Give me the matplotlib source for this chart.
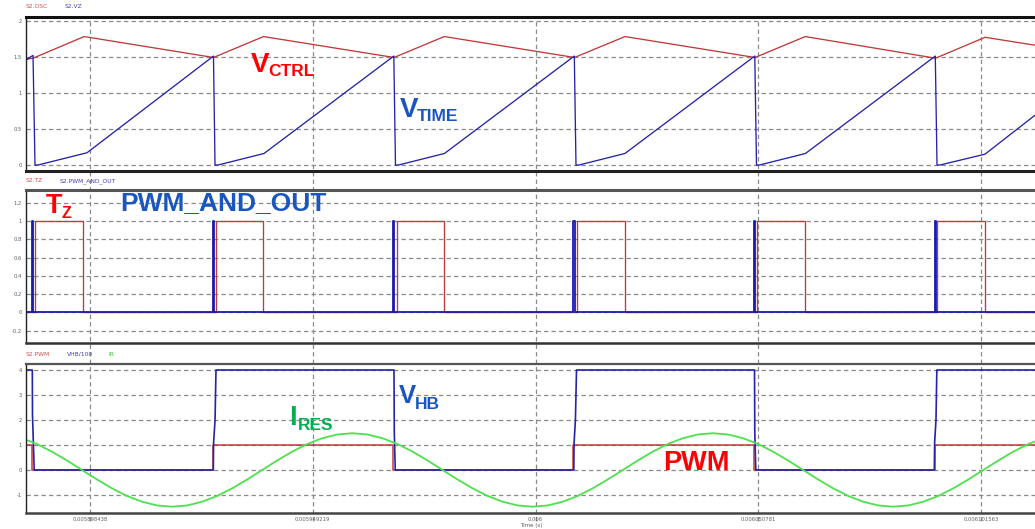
import numpy as np
import matplotlib
matplotlib.use("Agg")
import matplotlib.pyplot as plt

# ---------------- data (times in microseconds relative to 6 ms) ----------------
T_REF = 0.006
xlim_us = [-116.15, 113.87]

xtick_s = [0.005898438, 0.005949219, 0.006, 0.006050781, 0.006101563]
xtick_lbl = ["0.005898438", "0.005949219", "0.006", "0.006050781", "0.006101563"]

# top panel
vctrl_us = [-116.15, -114.55, -102.90, -73.41, -62.00, -32.26, -20.80, 8.89, 20.40,
            50.04, 61.50, 91.19, 102.50, 113.87]
vctrl_v = [1.465, 1.48, 1.78, 1.49, 1.78, 1.49, 1.78, 1.49, 1.78, 1.49, 1.78, 1.48, 1.77, 1.66]

vtime_us = [-116.15, -114.55, -114.10, -113.42, -102.24, -73.41, -73.06, -72.38, -61.89,
            -32.30, -31.92, -31.23, -20.75, 8.85, 9.23, 9.92, 20.40, 49.99, 50.38, 51.07,
            61.55, 91.14, 91.53, 92.21, 102.47, 113.87]
vtime_v = [1.455, 1.52, 0.0, 0.0, 0.17, 1.51, 0.0, 0.0, 0.16, 1.51, 0.0, 0.0, 0.16,
           1.51, 0.0, 0.0, 0.16, 1.51, 0.0, 0.0, 0.16, 1.51, 0.0, 0.0, 0.15, 0.69]

# middle panel (edges)
tz_rise_us = [-114.03, -72.91, -31.64, 9.42, 50.56, 91.60]
tz_fall_us = [-103.09, -62.05, -20.75, 20.40, 61.55, 102.54]
pao_rise_us = [-114.80, -73.63, -32.49, 8.66, 49.81, 90.96]
pao_fall_us = [-114.45, -73.29, -32.15, 9.00, 50.15, 91.30]

# bottom panel
pwm_rise_us = [-73.59, 8.62, 91.00]
pwm_fall_us = [-114.82, -32.42, 49.81]

vhb_us = [-116.15, -114.71, -114.67, -114.28, -73.45, -73.38, -73.05, -72.84, -32.26,
          -32.19, -31.97, 8.73, 8.80, 9.10, 9.35, 49.93, 49.99, 50.22, 90.92, 90.99,
          91.30, 91.49, 113.87]
vhb_v = [4, 4, 2.2, 0, 0, 1.1, 2.0, 4, 4, 1.5, 0, 0, 1.1, 2.0, 4, 4, 1.5, 0, 0, 1.1, 2.0, 4, 4]

ires_start_us = -117.10
ires_step_us = 3.425
ires_v = [1.27, 1.04, 0.735, 0.38, 0.0, -0.38, -0.735, -1.04, -1.27, -1.42, -1.47, -1.42,
          -1.27, -1.04, -0.735, -0.38,
          0.0, 0.38, 0.735, 1.04, 1.27, 1.42, 1.47, 1.42, 1.27, 1.04, 0.735, 0.38,
          0.0, -0.38, -0.735, -1.04, -1.27, -1.42, -1.47, -1.42, -1.27, -1.04, -0.735, -0.38,
          0.0, 0.38, 0.735, 1.04, 1.27, 1.42, 1.47, 1.42, 1.27, 1.04, 0.735, 0.38,
          0.0, -0.38, -0.735, -1.04, -1.27, -1.42, -1.47, -1.42, -1.27, -1.04, -0.735, -0.38,
          0.0, 0.38, 0.735, 1.04, 1.27]

# ---------------- helpers ----------------
def to_s(us):
    return T_REF + np.asarray(us, dtype=float) * 1e-6

def steps(rise, fall, t0, t1, lo=0.0, hi=1.0):
    edges = sorted([(t, hi) for t in rise] + [(t, lo) for t in fall])
    level = lo if edges[0][1] == hi else hi
    ts, vs = [t0], [level]
    for t, new in edges:
        ts += [t, t]
        vs += [level, new]
        level = new
    ts.append(t1)
    vs.append(level)
    return to_s(ts), np.array(vs)

W, H = 1035, 529
fig = plt.figure(figsize=(W / 100, H / 100), dpi=100)
fig.patch.set_facecolor("white")

def px_ax(top, bottom, left=26):
    return [left / W, 1 - bottom / H, 1 - left / W, (bottom - top) / H]

RED = "#c03a3a"
BLUE = "#2424a6"
GREEN = "#4ee04e"
GRIDC = "#8a8a8a"
LBL = "#606060"

ax3 = fig.add_axes(px_ax(364, 512.7))
ax1 = fig.add_axes(px_ax(16.5, 170.5))
ax2 = fig.add_axes(px_ax(190, 343.3))

xl = to_s(xlim_us)
for ax in (ax1, ax2, ax3):
    ax.set_xlim(xl[0], xl[1])
    ax.set_facecolor("none")
    ax.spines["right"].set_visible(False)
    ax.spines["left"].set_linewidth(1.0)
    ax.spines["left"].set_color("#222222")
    ax.tick_params(axis="both", length=0, labelsize=3.8, labelcolor=LBL, pad=3)
    ax.set_xticks(xtick_s)
    ax.yaxis.grid(True, color=GRIDC, linestyle=(0, (3.5, 2.5)), linewidth=0.9)

ax1.spines["top"].set_linewidth(2.2); ax1.spines["top"].set_color("#111111")
ax1.spines["bottom"].set_linewidth(2.2); ax1.spines["bottom"].set_color("#222222")
ax2.spines["top"].set_linewidth(2.2); ax2.spines["top"].set_color("#555555")
ax2.spines["bottom"].set_linewidth(1.8); ax2.spines["bottom"].set_color("#333333")
ax3.spines["top"].set_linewidth(1.6); ax3.spines["top"].set_color("#555555")
ax3.spines["bottom"].set_linewidth(1.8); ax3.spines["bottom"].set_color("#444444")

ax1.set_xticklabels([])
ax2.set_xticklabels([])
ax3.set_xticklabels(xtick_lbl)

ax1.set_ylim(-0.076, 2.058)
ax1.set_yticks([0, 0.5, 1, 1.5, 2])
ax1.set_yticklabels(["0", "0.5", "1", "1.5", "2"])
ax2.set_ylim(-0.34, 1.34)
ax2.set_yticks([-0.2, 0, 0.2, 0.4, 0.6, 0.8, 1, 1.2])
ax2.set_yticklabels(["-0.2", "0", "0.2", "0.4", "0.6", "0.8", "1", "1.2"])
ax3.set_ylim(-1.71, 4.24)
ax3.set_yticks([-1, 0, 1, 2, 3, 4])
ax3.set_yticklabels(["-1", "0", "1", "2", "3", "4"])

# vertical dashed grid spanning all panels
for t in xtick_s:
    ax3.axvline(t, ymin=(512.7 - 521) / 148.7, ymax=(512.7 - 17) / 148.7, clip_on=False,
                color=GRIDC, linestyle=(0, (3.5, 2.5)), linewidth=0.9, zorder=0.5)

# top panel
ax1.plot(to_s(vctrl_us), vctrl_v, color=RED, lw=0.95)
ax1.plot(to_s(vtime_us), vtime_v, color=BLUE, lw=0.95)

# middle panel
tz_t, tz_v = steps(tz_rise_us, tz_fall_us, xlim_us[0], xlim_us[1])
pa_t, pa_v = steps(pao_rise_us, pao_fall_us, xlim_us[0], xlim_us[1])
ax2.plot(tz_t, tz_v, color=RED, lw=0.95)
ax2.plot(pa_t, pa_v, color="#1a1ab0", lw=1.3)

# bottom panel
pw_t, pw_v = steps(pwm_rise_us, pwm_fall_us, xlim_us[0], xlim_us[1])
ax3.plot(pw_t, pw_v, color=RED, lw=1.1)
ax3.plot(to_s(vhb_us), vhb_v, color=BLUE, lw=1.2)
ires_t = to_s(ires_start_us + ires_step_us * np.arange(len(ires_v)))
ax3.plot(ires_t, ires_v, color=GREEN, lw=1.3)

# ---------------- texts ----------------
def ftxt(x, y, s, **kw):
    fig.text(x / W, 1 - y / H, s, **kw)

small = dict(fontsize=4.3, va="center", ha="left")
ftxt(26, 7, "S2.OSC", color="#d05050", **small)
ftxt(65, 7, "S2.VZ", color="#4040c0", **small)
ftxt(26, 181, "S2.TZ", color="#d05050", **small)
ftxt(60, 181, "S2.PWM_AND_OUT", color="#4040c0", **small)
ftxt(26, 354, "S2.PWM", color="#d05050", **small)
ftxt(66.7, 354, "VHB/100", color="#4040c0", **small)
ftxt(108, 354, "IR", color="#40c040", **small)
ftxt(520, 526, "Time (s)", color=LBL, fontsize=4.0, va="center", ha="left")

FAM = "Liberation Sans"
CR = "#ff0000"
CB = "#1a56c0"
CG = "#00b050"

def big(x, y, s, color, size):
    ftxt(x, y, s, color=color, fontsize=size, fontweight="bold", family=FAM, va="baseline", ha="left")

big(251, 71.7, "V", CR, 20)
big(268.5, 76.5, "CTRL", CR, 12.5)
big(399.5, 117, "V", CB, 20)
big(417, 121, "TIME", CB, 12.5)
big(46, 213.3, "T", CR, 19.5)
big(61.5, 217.5, "Z", CR, 11.5)
big(120, 210.5, "PWM_AND_OUT", CB, 19)
big(289, 425, "I", CG, 19.5)
big(297.5, 430, "RES", CG, 12.5)
big(399, 403.3, "V", CB, 18.5)
big(415, 409.3, "HB", CB, 12.5)
big(663, 470, "PWM", CR, 19.5)

fig.savefig("out.png", dpi=100)
